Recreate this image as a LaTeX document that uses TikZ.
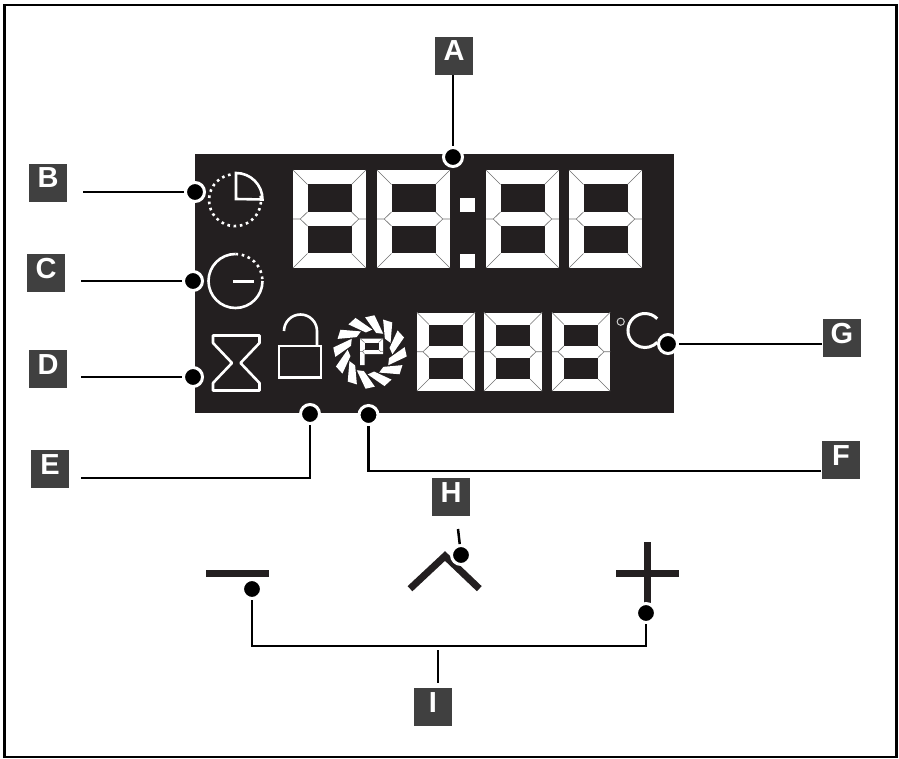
\documentclass[tikz,border=0pt]{standalone}
\usepackage{fontspec}
\setmainfont{Liberation Sans}
\usetikzlibrary{positioning, calc}
\definecolor{panelblack}{HTML}{231F20}
\definecolor{tagfill}{HTML}{404040}
\definecolor{segline}{HTML}{707070}
\tikzset{
    tag/.style={rectangle, fill=tagfill, text=white, minimum width=38pt, inner sep=0pt, text height=24pt, text depth=14pt, font=\fontsize{29}{29}\selectfont\bfseries},
    callout/.style={circle, fill=black, draw=white, line width=3pt, minimum size=19pt, inner sep=0pt},
    leader/.style={line width=2.5pt, draw=black},
    iconline/.style={draw=white, line width=2.6pt},
    icondots/.style={draw=white, line width=2.6pt, dash pattern=on 2.6pt off 3.7pt},
    keybar/.style={draw=panelblack, line width=7pt},
    segedge/.style={draw=segline, line width=0.6pt}
}
% one seven-segment digit: x, y, width, height, bar thickness
\newcommand{\segdigit}[5]{%
    \pgfmathsetmacro\dgR{#1+#3}
    \pgfmathsetmacro\dgB{#2+#4}
    \pgfmathsetmacro\dgM{#2+#4/2}
    \pgfmathsetmacro\dgS{#5/2-0.2}
    \fill[white] (#1,#2) rectangle (\dgR,\dgB);
    \fill[panelblack] (#1+#5,#2+#5) rectangle (\dgR-#5,\dgM-\dgS);
    \fill[panelblack] (#1+#5,\dgM+\dgS) rectangle (\dgR-#5,\dgB-#5);
    \draw[segedge] (#1,#2) -- (#1+#5,#2+#5);
    \draw[segedge] (\dgR,#2) -- (\dgR-#5,#2+#5);
    \draw[segedge] (#1,\dgB) -- (#1+#5,\dgB-#5);
    \draw[segedge] (\dgR,\dgB) -- (\dgR-#5,\dgB-#5);
    \draw[segedge] (#1,\dgM) -- (#1+#5/2,\dgM) -- (#1+#5,\dgM-\dgS);
    \draw[segedge] (#1+#5/2,\dgM) -- (#1+#5,\dgM+\dgS);
    \draw[segedge] (\dgR,\dgM) -- (\dgR-#5/2,\dgM) -- (\dgR-#5,\dgM-\dgS);
    \draw[segedge] (\dgR-#5/2,\dgM) -- (\dgR-#5,\dgM+\dgS);
}

\begin{document}
\begin{tikzpicture}[x=1pt, y=-1pt]
    \useasboundingbox (0,0) rectangle (899,759);
    \draw[line width=2.6pt] (4.5,5) rectangle (896.5,757);

    % Display panel
    \fill[panelblack] (195,154) rectangle (674,413);

    % Digits
    \foreach \x in {293, 377, 486, 569}
        \segdigit{\x}{170}{73}{98}{14.5}
    \foreach \x in {417, 484, 552}
        \segdigit{\x}{312.5}{58}{78.5}{12}
    \fill[white] (460,197.7) rectangle (474.7,212.3);
    \fill[white] (460,254) rectangle (474.7,268);

    % Clock with sector
    \draw[icondots] (230.5,174.5) arc (-100:-375:26);
    \draw[iconline] (236,199) -- (236,173) arc (-90:0:26.5) -- (236,199) -- cycle;

    % Clock with minus
    \draw[iconline] (235.5,254) arc (270:0:27);
    \draw[icondots] (235.5,254) arc (-90:0:27);
    \draw[draw=white, line width=3pt] (233,281) -- (254,281);

    % Hourglass
    \draw[iconline, line join=round] (213,335.5) -- (259.5,335.5) -- (259.5,343) -- (240.5,363) -- (259.5,383) -- (259.5,390.5) -- (213,390.5) -- (213,383) -- (232,363) -- (213,343) -- cycle;

    % Open lock
    \draw[iconline] (279,346) rectangle (321,377.5);
    \draw[iconline] (284,331) arc (180:360:16.5) -- (317,345);

    % Fan with P
    \foreach \a in {0,30,...,330}
        \fill[white, shift={(370,352)}, rotate=\a] (-98:35) -- (-83:37) -- (-54:22.5) -- (-72:20) -- cycle;
    \fill[white] (360,338.5) -- (383,338.5) -- (383,354) -- (364.5,354) -- (364.5,365) -- (360,365) -- cycle;
    \fill[panelblack] (364.5,342.5) rectangle (378.5,349.5);
    \draw[segline, line width=0.5pt] (360,338.5) -- (364.5,342.5) (383,338.5) -- (378.5,342.5) (360,351.5) -- (362.5,351.5) -- (364.5,349.5) (362.5,351.5) -- (364.5,354) (383,351.5) -- (380.5,351.5) -- (378.5,349.5);

    % Degree sign and C
    \draw[white!80!black, line width=1pt] (620.7,321.7) circle (3.6);
    \draw[iconline, line width=3pt] (657.2,318.7) arc (-44:-316:17);

    % Keys
    \draw[keybar] (206,573.5) -- (269,573.5);
    \draw[keybar] (616,573.5) -- (679,573.5);
    \draw[keybar] (647.5,542) -- (647.5,610);
    \draw[keybar, miter limit=10] (410,588.7) -- (445,556) -- (479.3,588.7);

    % Tags
    \node[tag] (tagA) at (454,56) {A};
    \node[tag] (tagB) at (48,183) {B};
    \node[tag] (tagC) at (46,273) {C};
    \node[tag] (tagD) at (48,369) {D};
    \node[tag] (tagE) at (50,469) {E};
    \node[tag] (tagF) at (841,460) {F};
    \node[tag] (tagG) at (842,338) {G};
    \node[tag] (tagH) at (451,497) {H};
    \node[tag] (tagI) at (433,707) {I};

    % Callout dots
    \node[callout] (dotA) at (453,157) {};
    \node[callout] (dotB) at (195,192) {};
    \node[callout] (dotC) at (193,281) {};
    \node[callout] (dotD) at (193,377) {};
    \node[callout] (dotE) at (310,414) {};
    \node[callout] (dotF) at (368.5,415) {};
    \node[callout] (dotG) at (668,344) {};
    \node[callout] (dotH) at (461,555) {};
    \node[callout] (dotMinus) at (252,589) {};
    \node[callout] (dotPlus) at (646,613) {};

    % Free ends of the leaders
    \coordinate (endB) at (83,192);
    \coordinate (endC) at (81,281);
    \coordinate (endD) at (81,377);
    \coordinate (endE) at (81,478);
    \coordinate (endF) at (821,471);
    \coordinate (endG) at (822,344);
    \coordinate (endH) at (458,529);
    \coordinate (busR) at (646,646);
    \coordinate (busM) at (438,650);
    \coordinate (endI) at (438,683);

    % Connections
    \draw[leader] (dotA |- tagA.south) -- (dotA);
    \foreach \x in {B, C, D, G, H}
        \draw[leader] (end\x) -- (dot\x);
    \draw[leader] (endE) -| (dotE);
    \draw[leader] (dotF) |- (endF);
    \draw[leader] (dotMinus) |- (busR) -- (dotPlus);
    \draw[leader] (busM) -- (endI);
\end{tikzpicture}
\end{document}
